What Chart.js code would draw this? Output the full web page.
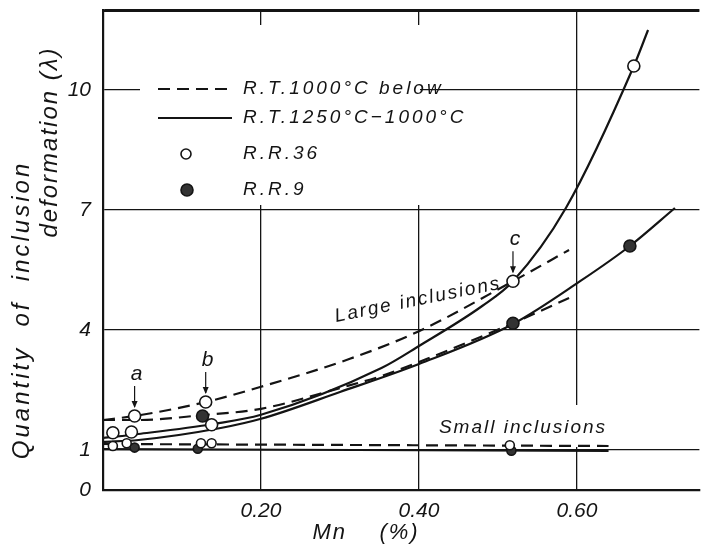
<!DOCTYPE html>
<html>
<head>
<meta charset="utf-8">
<script src="https://cdn.jsdelivr.net/npm/chart.js@4"></script>
<style>
  html, body { margin: 0; padding: 0; background: #fff; }
</style>
</head>
<body>
<canvas id="deformacion" width="707" height="547"></canvas>
<script>
// curves (Mn %, lambda)
const rt1000Rr36Mn  = [0, 0.04, 0.13, 0.2, 0.3125, 0.4, 0.519, 0.59];
const rt1000Rr36Lam = [1.75, 1.85, 2.2, 2.58, 3.28, 3.97, 5.22, 6.0];
const rt1250Rr36Mn  = [0, 0.045, 0.14, 0.2, 0.3525, 0.4, 0.48, 0.519, 0.586, 0.672, 0.69];
const rt1250Rr36Lam = [1.3, 1.4, 1.65, 1.88, 3.05, 3.6, 4.6, 5.22, 7.05, 10.6, 11.5];
const rt1000Rr9Mn   = [0, 0.045, 0.125, 0.2, 0.3, 0.3525, 0.4, 0.519, 0.59];
const rt1000Rr9Lam  = [1.75, 1.75, 1.87, 2.03, 2.55, 2.85, 3.2, 4.17, 4.8];
const rt1250Rr9Mn   = [0, 0.045, 0.149, 0.2, 0.3, 0.4, 0.519, 0.604, 0.667, 0.724];
const rt1250Rr9Lam  = [1.2, 1.25, 1.55, 1.78, 2.45, 3.15, 4.15, 5.22, 6.1, 7.05];
const smallDashMn   = [0, 0.64];
const smallDashLam  = [1.15, 1.1];
const smallSolidMn  = [0, 0.64];
const smallSolidLam = [1.02, 0.98];

// measured points
const rr36Mn       = [0.0125, 0.036, 0.04, 0.13, 0.1375, 0.519, 0.672];
const rr36Lam      = [1.43, 1.45, 1.85, 2.2, 1.63, 5.22, 10.6];
const rr36SmallMn  = [0.0125, 0.03, 0.124, 0.1375, 0.515];
const rr36SmallLam = [1.1, 1.17, 1.17, 1.17, 1.12];
const rr9Mn        = [0.126, 0.519, 0.667];
const rr9Lam       = [1.85, 4.17, 6.1];
const rr9SmallMn   = [0.04, 0.12, 0.517];
const rr9SmallLam  = [1.06, 1.03, 0.98];

// marked specimens a, b, c
const markLabels = ['a', 'b', 'c'];
const markMn     = [0.04, 0.13, 0.519];
const markLam    = [1.85, 2.2, 5.22];

const xTicks = [0, 0.2, 0.4, 0.6];
const yTicks = [0, 1, 4, 7, 10, 12];
const legendLabels = ['R.T.1000°C below', 'R.T.1250°C\u22121000°C', 'R.R.36', 'R.R.9'];

const ink = '#141414';
const dash = [12, 7];
const letra = 'italic 19px "Liberation Sans"';

function pts(xs, ys) {
  return xs.map((x, i) => ({ x: x, y: ys[i] }));
}

function curva(xs, ys, dashed) {
  return {
    type: 'line',
    data: pts(xs, ys),
    borderColor: ink,
    borderWidth: 2.2,
    borderDash: dashed ? dash : [],
    pointRadius: 0,
    cubicInterpolationMode: 'monotone',
    fill: false
  };
}

function puntos(xs, ys, filled, r) {
  return {
    type: 'scatter',
    data: pts(xs, ys),
    pointRadius: r,
    pointBackgroundColor: filled ? '#333' : '#fff',
    pointBorderColor: ink,
    pointBorderWidth: 1.6
  };
}

// no extra room for tick labels: the frame must sit at fixed pixels
function sinPadding(s) {
  s.paddingTop = 0;
  s.paddingBottom = 0;
  s.paddingLeft = 0;
  s.paddingRight = 0;
}

const decor = {
  id: 'decor',
  beforeDatasetsDraw(chart) {
    // the original leaves the grid blank behind legend and the "Small inclusions" label
    const ctx = chart.ctx;
    const area = chart.chartArea;
    ctx.save();
    ctx.fillStyle = '#fff';
    ctx.fillRect(140, 25, 280, 180);
    ctx.fillRect(428, 405, 190, 42);
    // top frame line
    ctx.strokeStyle = ink;
    ctx.lineWidth = 2.2;
    ctx.beginPath();
    ctx.moveTo(area.left, area.top + 1);
    ctx.lineTo(area.right, area.top + 1);
    ctx.stroke();
    ctx.restore();
  },
  afterDraw(chart) {
    const ctx = chart.ctx;
    const xs = chart.scales.x, ys = chart.scales.y;
    ctx.save();
    ctx.fillStyle = ink;
    ctx.strokeStyle = ink;
    ctx.textBaseline = 'middle';

    // legend
    ctx.font = letra;
    ctx.letterSpacing = '3px';
    const rows = [89, 118, 154, 190];
    ctx.lineWidth = 2.2;
    ctx.setLineDash(dash);
    ctx.beginPath(); ctx.moveTo(158, rows[0]); ctx.lineTo(232, rows[0]); ctx.stroke();
    ctx.setLineDash([]);
    ctx.beginPath(); ctx.moveTo(158, rows[1]); ctx.lineTo(232, rows[1]); ctx.stroke();
    ctx.lineWidth = 1.6;
    ctx.beginPath(); ctx.arc(186, rows[2], 5, 0, Math.PI * 2);
    ctx.fillStyle = '#fff'; ctx.fill(); ctx.stroke();
    ctx.beginPath(); ctx.arc(187, rows[3], 6, 0, Math.PI * 2);
    ctx.fillStyle = '#333'; ctx.fill(); ctx.stroke();
    ctx.fillStyle = ink;
    ctx.textAlign = 'left';
    legendLabels.forEach((t, i) => ctx.fillText(t, 243, rows[i]));

    // a, b, c arrows
    ctx.textAlign = 'center';
    ctx.font = 'italic 21px "Liberation Sans"';
    ctx.letterSpacing = '0px';
    ctx.lineWidth = 1.2;
    markLabels.forEach((t, i) => {
      const px = xs.getPixelForValue(markMn[i]);
      const py = ys.getPixelForValue(markLam[i]);
      ctx.fillText(t, px + 2, py - 42);
      ctx.beginPath(); ctx.moveTo(px, py - 30); ctx.lineTo(px, py - 9); ctx.stroke();
      ctx.beginPath();
      ctx.moveTo(px - 3, py - 15); ctx.lineTo(px, py - 8); ctx.lineTo(px + 3, py - 15);
      ctx.closePath(); ctx.fill();
    });

    // curve labels
    ctx.font = letra;
    ctx.letterSpacing = '2px';
    ctx.save();
    ctx.translate(418, 300);
    ctx.rotate(-0.2);
    ctx.fillText('Large inclusions', 0, 0);
    ctx.restore();
    ctx.fillText('Small inclusions', 523, 428);

    // axis titles
    ctx.font = 'italic 22px "Liberation Sans"';
    ctx.letterSpacing = '2px';
    ctx.fillText('Mn    (%)', 366, 533);
    ctx.save();
    ctx.font = 'italic 24px "Liberation Sans"';
    ctx.translate(22, 310);
    ctx.rotate(-Math.PI / 2);
    ctx.letterSpacing = '3px';
    ctx.fillText('Quantity  of  inclusion', 0, 0);
    ctx.restore();
    ctx.save();
    ctx.font = 'italic 24px "Liberation Sans"';
    ctx.translate(50, 142);
    ctx.rotate(-Math.PI / 2);
    ctx.letterSpacing = '2px';
    ctx.fillText('deformation (\u03BB)', 0, 0);
    ctx.restore();

    ctx.restore();
  }
};

new Chart(document.getElementById('deformacion'), {
  type: 'scatter',
  data: {
    datasets: [
      puntos(rr36Mn, rr36Lam, false, 6),
      puntos(rr36SmallMn, rr36SmallLam, false, 4.5),
      puntos(rr9Mn, rr9Lam, true, 6),
      puntos(rr9SmallMn, rr9SmallLam, true, 4.5),
      curva(rt1000Rr36Mn, rt1000Rr36Lam, true),
      curva(rt1250Rr36Mn, rt1250Rr36Lam, false),
      curva(rt1000Rr9Mn, rt1000Rr9Lam, true),
      curva(rt1250Rr9Mn, rt1250Rr9Lam, false),
      curva(smallDashMn, smallDashLam, true),
      curva(smallSolidMn, smallSolidLam, false)
    ]
  },
  options: {
    responsive: false,
    animation: false,
    layout: { padding: { top: 10, left: 0, right: 0, bottom: 0 } },
    plugins: { legend: { display: false }, tooltip: { enabled: false } },
    scales: {
      x: {
        type: 'linear',
        min: 0,
        max: 0.755,
        afterBuildTicks: s => { s.ticks = xTicks.map(v => ({ value: v })); },
        afterFit: s => { s.height = 57; sinPadding(s); },
        grid: { color: ink, lineWidth: 1.3, drawTicks: false },
        border: { display: true, color: ink, width: 2.2 },
        ticks: {
          padding: 9,
          color: ink,
          maxRotation: 0,
          autoSkip: false,
          font: { family: 'Liberation Sans', size: 21, style: 'italic' },
          callback: v => v === 0 ? '' : v.toFixed(2)
        }
      },
      y: {
        type: 'linear',
        min: 0,
        max: 12,
        afterBuildTicks: s => { s.ticks = yTicks.map(v => ({ value: v })); },
        afterFit: s => { s.width = 103; sinPadding(s); },
        grid: { color: ink, lineWidth: 1.3, drawTicks: false },
        border: { display: true, color: ink, width: 2.2 },
        ticks: {
          padding: 12,
          color: ink,
          autoSkip: false,
          font: { family: 'Liberation Sans', size: 21, style: 'italic' },
          callback: v => v === 12 ? '' : String(v)
        }
      }
    }
  },
  plugins: [decor]
});
</script>
</body>
</html>
